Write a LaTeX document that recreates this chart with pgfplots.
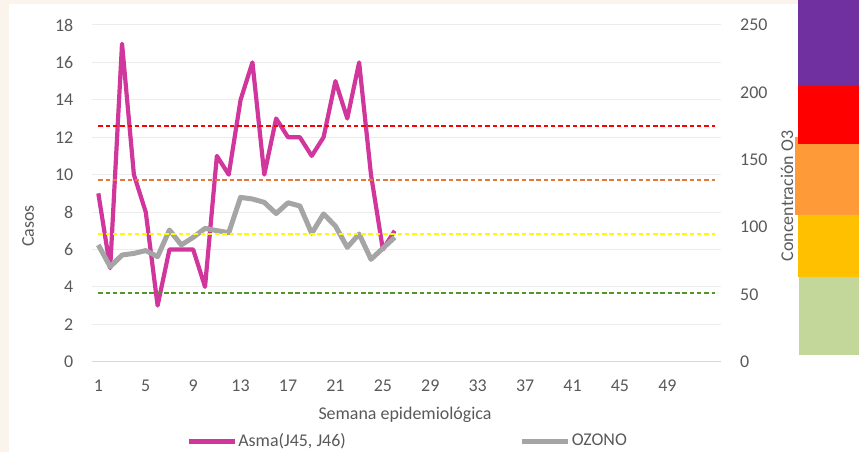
\documentclass[border=0pt]{standalone}
\usepackage{fontspec}
\setmainfont{Carlito}
\usepackage{pgfplots}
\usepackage{pgfplotstable}
\pgfplotsset{compat=1.18}
\definecolor{asma}{RGB}{208,54,155}
\definecolor{ozono}{RGB}{165,165,165}
\definecolor{txt}{RGB}{89,89,89}
\definecolor{gridc}{RGB}{236,236,236}
\definecolor{axisc}{RGB}{214,214,214}
\definecolor{thr}{RGB}{255,0,0}
\definecolor{tho}{RGB}{228,122,58}
\definecolor{thy}{RGB}{255,250,0}
\definecolor{thg}{RGB}{80,150,40}
\definecolor{bpurple}{RGB}{112,48,160}
\definecolor{bred}{RGB}{255,0,0}
\definecolor{borange}{RGB}{255,154,56}
\definecolor{byellow}{RGB}{255,192,0}
\definecolor{bgreen}{RGB}{196,215,155}
\definecolor{beige}{RGB}{250,244,236}

\pgfplotstableread{
week asma ozono
1  9  86.7
2  5  70.5
3  17 79.2
4  10 80.4
5  8  82.5
6  3  78.0
7  6  97.8
8  6  86.7
9  6  92.3
10 4  99.0
11 11 97.3
12 10 95.8
13 14 122.0
14 16 120.8
15 10 118.3
16 13 110.0
17 12 118.0
18 12 115.6
19 11 95.3
20 12 109.7
21 15 100.7
22 13 84.9
23 16 94.8
24 10 76.0
25 6  84.2
26 7  92.3
}\data

\pgfplotsset{
  base/.style={
    scale only axis, width=628.3bp, height=336.7bp,
    at={(92.4bp,90.3bp)}, anchor=south west,
    xmin=0.5, xmax=53.5, ymin=0,
    /pgf/number format/assume math mode=true,
    major tick length=0pt,
    tick style={draw=none},
    axis line style={draw=none},
    tick label style={text=txt},
  },
  thresh/.style={forget plot, line width=1.8bp, dash pattern=on 4.5bp off 2.8bp},
}

\begin{document}
\fontsize{18}{21}\selectfont
\begin{tikzpicture}[x=1bp,y=1bp]
\path[use as bounding box] (0,0) rectangle (859,452);
\fill[beige] (0,0) rectangle (9,452);
\fill[beige] (0,448) rectangle (859,452);

\begin{axis}[base,
  ymax=18, ytick={0,2,...,18},
  xtick={1,5,...,49},
  ymajorgrids, grid style={gridc, line width=1bp},
  extra y ticks={0}, extra y tick labels={},
  extra y tick style={grid style={axisc, line width=1.2bp}},
  yticklabel style={anchor=east, inner sep=0pt, xshift=-19bp},
  xticklabel style={anchor=base, inner sep=0pt, yshift=-29.8bp},
]
\addplot[asma, line width=4.2bp, line join=round] table[x=week, y=asma]{\data};
\end{axis}

\begin{axis}[base,
  ymax=250, ytick={0,50,...,250},
  xtick=\empty,
  ytick pos=right, yticklabel pos=right,
  yticklabel style={anchor=west, inner sep=0pt, xshift=19.3bp},
  legend style={at={(0.5015,-0.237)}, anchor=center, draw=none, fill=none,
    legend columns=2, text=txt, inner sep=0pt,
    nodes={inner sep=1.5bp},
    /tikz/every even column/.append style={column sep=172bp}},
  legend image code/.code={\draw[#1] (0bp,0bp) -- (46bp,0bp);},
]
\addlegendimage{asma, line width=4.2bp}
\addlegendentry{Asma(J45, J46)}
\addplot[ozono, line width=5bp, line join=round] table[x=week, y=ozono]{\data};
\addlegendentry{OZONO}
\addplot[thresh, thr] coordinates {(1,175) (53,175)};
\addplot[thresh, tho] coordinates {(1,135) (53,135)};
\addplot[thresh, thy] coordinates {(1,95) (53,95)};
\addplot[thresh, thg] coordinates {(1,51) (53,51)};
\end{axis}

\node[rotate=90, text=txt, inner sep=0pt] at (28,226) {Casos};
\node[rotate=90, text=txt, inner sep=0pt] at (787,256) {Concentración O3};
\node[text=txt, inner sep=0pt, anchor=base] at (405,32) {Semana epidemiológica};

\fill[borange] (795,452-215) rectangle (859,452-137.3);
\fill[bpurple] (798,452) rectangle (859,452-85.7);
\fill[bred] (798,452-85.7) rectangle (859,452-144);
\fill[byellow] (798,452-215) rectangle (859,452-277);
\fill[bgreen] (799,452-277) rectangle (859,452-355);
\end{tikzpicture}
\end{document}
